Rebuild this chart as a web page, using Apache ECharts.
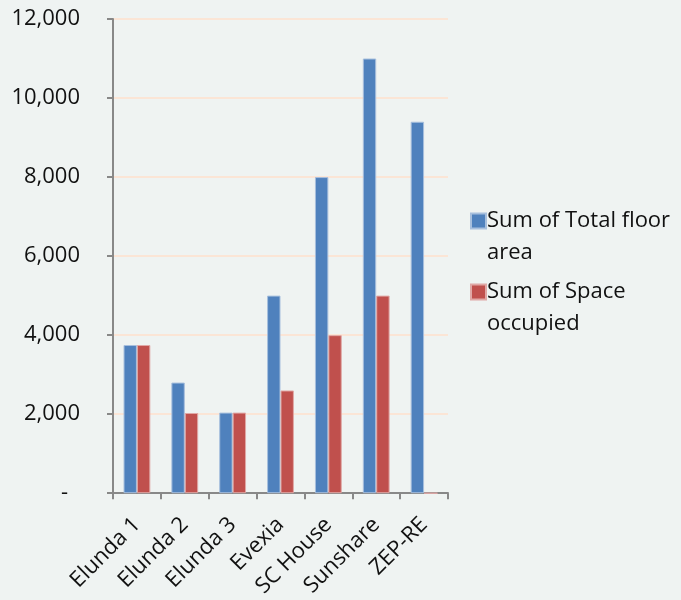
<!DOCTYPE html>
<html>
<head>
<meta charset="utf-8">
<script src="https://cdn.jsdelivr.net/npm/echarts@6/dist/echarts.min.js"></script>
<style>
  html, body { margin: 0; padding: 0; background: #eff3f2; }
  #chart { width: 681px; height: 600px; }
</style>
</head>
<body>
<div id="chart"></div>
<script>
var categories = ['Elunda 1', 'Elunda 2', 'Elunda 3', 'Evexia', 'SC House', 'Sunshare', 'ZEP-RE'];
var totalFloor = [3750, 2800, 2040, 5000, 8000, 11000, 9400];
var spaceOccupied = [3750, 2030, 2040, 2600, 4000, 5000, 0];
var seriesNames = ['Sum of Total floor area', 'Sum of Space occupied'];
// legend text split on two lines like the original
var legendLine1 = ['Sum of Total floor', 'Sum of Space'];
var legendLine2 = ['area', 'occupied'];

var myChart = echarts.init(document.getElementById('chart'));
var font = '"Open Sans", "Noto Sans", sans-serif';

myChart.setOption({
    backgroundColor: '#eff3f2',
    animation: false,
    textStyle: { fontFamily: font },
    grid: { left: 113, right: 233, top: 19, bottom: 106 },
    legend: {
        orient: 'vertical',
        left: 465,
        top: 204,
        itemWidth: 15,
        itemHeight: 15,
        itemGap: 47,
        icon: 'rect',
        data: seriesNames,
        formatter: function (name) {
            return legendLine1[seriesNames.indexOf(name)];
        },
        textStyle: { fontSize: 22, color: '#111', lineHeight: 24, fontFamily: font, padding: [0, 0, 0, -4] }
    },
    graphic: [
        { type: 'text', left: 487, top: 242, style: { text: legendLine2[0], fontSize: 22, fill: '#111', fontFamily: font } },
        { type: 'text', left: 487, top: 313, style: { text: legendLine2[1], fontSize: 22, fill: '#111', fontFamily: font } }
    ],
    xAxis: {
        type: 'category',
        data: categories,
        axisLine: { lineStyle: { color: '#888', width: 2 } },
        axisTick: { show: true, length: 6, alignWithLabel: false, lineStyle: { color: '#888', width: 2 } },
        axisLabel: { rotate: 45, fontSize: 22, color: '#111', margin: 28, interval: 0 }
    },
    yAxis: {
        type: 'value',
        min: 0,
        max: 12000,
        interval: 2000,
        axisLine: { show: true, lineStyle: { color: '#888', width: 2 } },
        axisTick: { show: true, length: 6, lineStyle: { color: '#888', width: 2 } },
        splitLine: { lineStyle: { color: '#fbe5d6', width: 2 } },
        axisLabel: {
            fontSize: 22,
            color: '#111',
            margin: 33,
            formatter: function (v) {
                return v === 0 ? '{d|-}' : v.toLocaleString('en-US');
            },
            rich: { d: { fontSize: 22, color: '#111', padding: [0, 12, 0, 0] } }
        }
    },
    series: [{
        name: seriesNames[0],
        type: 'bar',
        barGap: '0%',
        barCategoryGap: '44%',
        itemStyle: { color: '#4f81bd', borderColor: '#a7bfdd', borderWidth: 1 },
        data: totalFloor
    }, {
        name: seriesNames[1],
        type: 'bar',
        itemStyle: { color: '#c0504d', borderColor: '#e0a8a6', borderWidth: 1 },
        data: spaceOccupied
    }]
});
</script>
</body>
</html>
